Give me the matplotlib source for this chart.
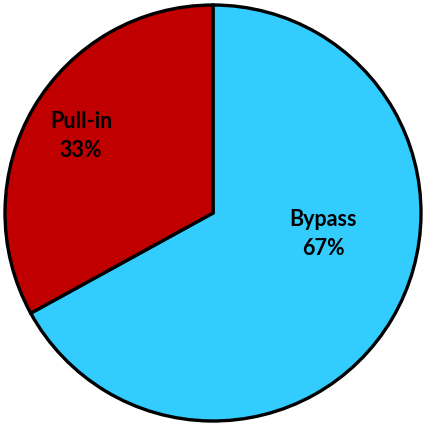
import matplotlib
matplotlib.use("Agg")
import matplotlib.pyplot as plt

categories = ["Bypass", "Pull-in"]
values = [67, 33]
colors = ["#33CCFF", "#C00000"]

fig = plt.figure(figsize=(4.24, 4.24), dpi=100)
ax = fig.add_axes([0, 0, 1, 1])
R = 208.0
wedges, _ = ax.pie(values, colors=colors, startangle=90, counterclock=False,
                   radius=1.0, center=(0, 0),
                   wedgeprops=dict(edgecolor="black", linewidth=2.4))
ax.set_xlim(-213 / R, 211 / R)
ax.set_ylim(-211 / R, 213 / R)
ax.set_aspect("equal")
ax.axis("off")

label_pos = {"Bypass": (0.529, -0.10), "Pull-in": (-0.635, 0.37)}
for cat, val in zip(categories, values):
    x, y = label_pos[cat]
    ax.text(x, y, f"{cat}\n{val}%", ha="center", va="center",
            fontsize=15.5, fontweight="bold", family=["Lato", "DejaVu Sans"],
            linespacing=1.45, color="black")

fig.savefig("out.png", dpi=100)
